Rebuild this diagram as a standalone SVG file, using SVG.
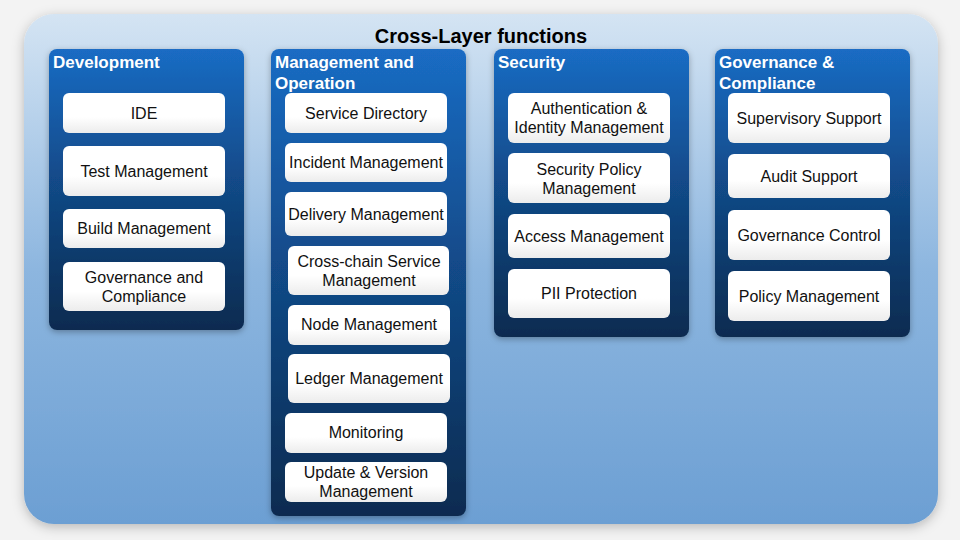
<svg xmlns="http://www.w3.org/2000/svg" width="960" height="540" viewBox="0 0 960 540">
<defs>
<linearGradient id="bg" x1="0" y1="0" x2="0" y2="1"><stop offset="0" stop-color="#d4e4f3"/><stop offset="0.5" stop-color="#8db6df"/><stop offset="1" stop-color="#6c9fd3"/></linearGradient>
<linearGradient id="col" x1="0" y1="0" x2="0" y2="1"><stop offset="0" stop-color="#1a6cc4"/><stop offset="0.45" stop-color="#124b8a"/><stop offset="1" stop-color="#0b2b50"/></linearGradient>
<linearGradient id="box" x1="0" y1="0" x2="0" y2="1"><stop offset="0" stop-color="#ffffff"/><stop offset="0.6" stop-color="#ffffff"/><stop offset="1" stop-color="#ececec"/></linearGradient>
<filter id="sh" x="-20%" y="-20%" width="140%" height="140%"><feDropShadow dx="0" dy="3" stdDeviation="6" flood-color="#000" flood-opacity="0.25"/></filter>
<filter id="sh2" x="-20%" y="-20%" width="140%" height="140%"><feDropShadow dx="0" dy="2" stdDeviation="3" flood-color="#000" flood-opacity="0.3"/></filter>
</defs>
<style>
.col{fill:url(#col);filter:url(#sh2)}
.box{fill:url(#box)}
.t{font-family:"Liberation Sans",Arial,sans-serif;font-size:16px;fill:#111;text-anchor:middle}
.h{font-family:"Liberation Sans",Arial,sans-serif;font-size:17px;font-weight:bold;fill:#fff}
.title{font-family:"Liberation Sans",Arial,sans-serif;font-size:20px;font-weight:bold;fill:#000;text-anchor:middle}
</style>
<rect width="960" height="540" fill="#f3f3f3"/>
<rect x="24" y="14" width="914" height="510" rx="30" fill="url(#bg)" filter="url(#sh)"/>
<text class="title" x="481" y="43">Cross-Layer functions</text>

<g id="development">
<rect class="col" x="49" y="49" width="195" height="281" rx="8"/>
<text class="h" x="53" y="68">Development</text>
<g id="dev-ide"><rect class="box" x="63" y="93" width="162" height="40" rx="6"/><text class="t" x="144" y="119">IDE</text></g>
<g id="dev-test"><rect class="box" x="63" y="146" width="162" height="50" rx="6"/><text class="t" x="144" y="177">Test Management</text></g>
<g id="dev-build"><rect class="box" x="63" y="209" width="162" height="39" rx="6"/><text class="t" x="144" y="234">Build Management</text></g>
<g id="dev-gov"><rect class="box" x="63" y="262" width="162" height="49" rx="6"/><text class="t" x="144" y="283">Governance and</text><text class="t" x="144" y="302">Compliance</text></g>
</g>

<g id="management">
<rect class="col" x="271" y="49" width="195" height="467" rx="8"/>
<text class="h" x="275" y="68">Management and</text>
<text class="h" x="275" y="89">Operation</text>
<g id="mgmt-sd"><rect class="box" x="285" y="93" width="162" height="40" rx="6"/><text class="t" x="366" y="119">Service Directory</text></g>
<g id="mgmt-inc"><rect class="box" x="285" y="143" width="162" height="39" rx="6"/><text class="t" x="366" y="168">Incident Management</text></g>
<g id="mgmt-del"><rect class="box" x="285" y="192" width="162" height="44" rx="6"/><text class="t" x="366" y="220">Delivery Management</text></g>
<g id="mgmt-cc"><rect class="box" x="288" y="246" width="161" height="49" rx="6"/><text class="t" x="369" y="267">Cross-chain Service</text><text class="t" x="369" y="286">Management</text></g>
<g id="mgmt-node"><rect class="box" x="288" y="305" width="162" height="40" rx="6"/><text class="t" x="369" y="330">Node Management</text></g>
<g id="mgmt-ledger"><rect class="box" x="288" y="354" width="162" height="49" rx="6"/><text class="t" x="369" y="384">Ledger Management</text></g>
<g id="mgmt-mon"><rect class="box" x="285" y="413" width="162" height="40" rx="6"/><text class="t" x="366" y="438">Monitoring</text></g>
<g id="mgmt-upd"><rect class="box" x="285" y="462" width="162" height="40" rx="6"/><text class="t" x="366" y="478">Update &amp; Version</text><text class="t" x="366" y="497">Management</text></g>
</g>

<g id="security">
<rect class="col" x="494" y="49" width="195" height="288" rx="8"/>
<text class="h" x="498" y="68">Security</text>
<g id="sec-auth"><rect class="box" x="508" y="93" width="162" height="50" rx="6"/><text class="t" x="589" y="114">Authentication &amp;</text><text class="t" x="589" y="133">Identity Management</text></g>
<g id="sec-pol"><rect class="box" x="508" y="153" width="162" height="50" rx="6"/><text class="t" x="589" y="175">Security Policy</text><text class="t" x="589" y="194">Management</text></g>
<g id="sec-access"><rect class="box" x="508" y="214" width="162" height="44" rx="6"/><text class="t" x="589" y="242">Access Management</text></g>
<g id="sec-pii"><rect class="box" x="508" y="269" width="162" height="49" rx="6"/><text class="t" x="589" y="299">PII Protection</text></g>
</g>

<g id="governance">
<rect class="col" x="715" y="49" width="195" height="288" rx="8"/>
<text class="h" x="719" y="68">Governance &amp;</text>
<text class="h" x="719" y="89">Compliance</text>
<g id="gov-sup"><rect class="box" x="728" y="93" width="162" height="50" rx="6"/><text class="t" x="809" y="124">Supervisory Support</text></g>
<g id="gov-audit"><rect class="box" x="728" y="154" width="162" height="44" rx="6"/><text class="t" x="809" y="182">Audit Support</text></g>
<g id="gov-ctrl"><rect class="box" x="728" y="210" width="162" height="50" rx="6"/><text class="t" x="809" y="241">Governance Control</text></g>
<g id="gov-pol"><rect class="box" x="728" y="271" width="162" height="50" rx="6"/><text class="t" x="809" y="302">Policy Management</text></g>
</g>
<g id="connectors"/>
</svg>
